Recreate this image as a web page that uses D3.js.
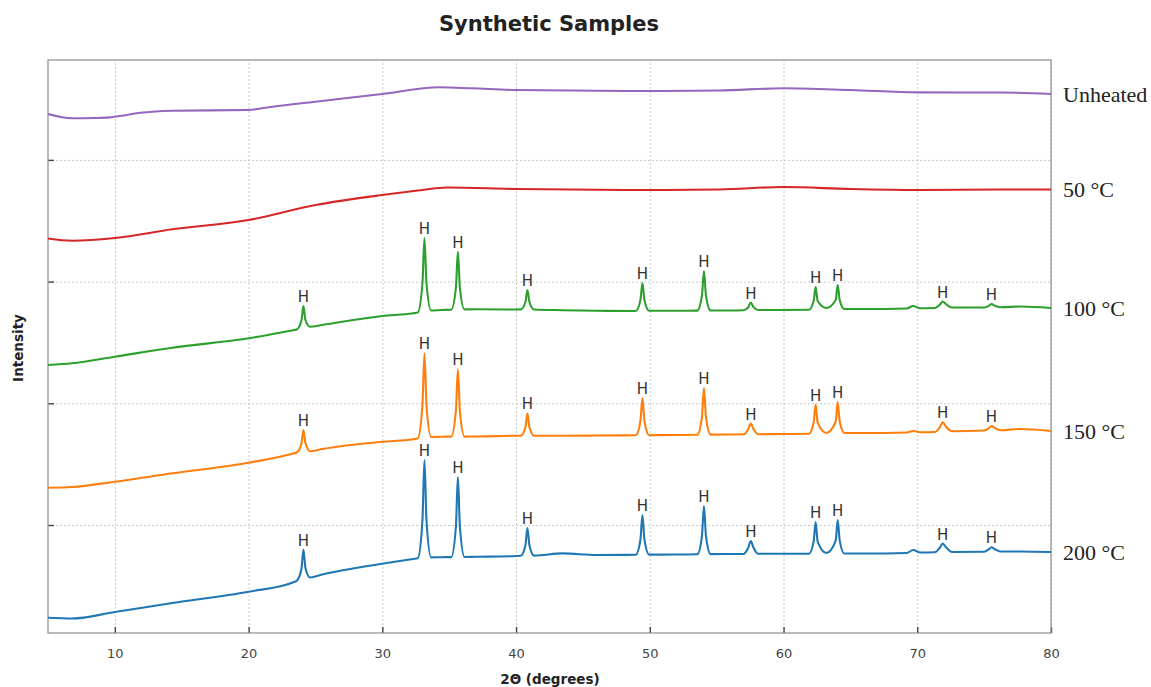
<!DOCTYPE html>
<html lang="en">
<head>
    <meta charset="UTF-8">
    <title>Synthetic Samples</title>
    <style>
        body {
            margin: 0;
            background: #ffffff;
            font-family: "DejaVu Sans", sans-serif;
        }
        .grid line {
            stroke: #c8c8c8;
            stroke-dasharray: 2,2;
        }
        .grid path { display: none; }
        .axis path { display: none; }
        .axis line { stroke: #444; stroke-width: 1.4; }
        .axis text { fill: #444; font-size: 13px; font-family: "DejaVu Sans", sans-serif; }
        .trace { fill: none; stroke-width: 2.1; stroke-linejoin: round; }
        .peak-label { font-size: 15px; fill: #333; text-anchor: middle; font-family: "DejaVu Sans", sans-serif; }
        .series-label { font-size: 22px; fill: #222; font-family: "Liberation Serif", "Times New Roman", serif; }
    </style>
</head>
<body>
<div id="chart"></div>

<script src="https://d3js.org/d3.v7.min.js"></script>
<script>
    // 2θ (degrees) vs intensity (counts, offset per sample)
    const unheated = [[5,5190],[6.8,5147],[8.5,5150],[9.6,5156],[10.5,5172],[11.5,5195],[12.8,5213],[14.3,5223],[20,5230],
        [20.9,5245],[21.8,5263],[25,5313],[30,5390],[34.25,5457],[36.7,5447],[40,5430],[49.75,5420],[55.2,5425],[60,5447],
        [65,5430],[70.1,5406],[76.2,5405],[80,5390]];

    const c50 = [[5,3945],[6.8,3923],[10,3950],[14.3,4037],[20,4130],[25,4280],[30,4380],[33,4430],[34.8,4455],
        [40,4440],[49.75,4430],[55.2,4435],[60,4460],[65,4440],[70.1,4430],[76.2,4435],[80,4435]];

    const c100 = [[5,2680],[6.8,2697],[10,2763],[14.3,2853],[20,2947],[23.4,3030],[23.6,3035],[23.95,3124],[24.1,3270],
        [24.25,3130],[24.6,3062],[25.5,3080],[30,3170],[32.3,3197],[32.65,3205],[33.0,3500],[33.15,3950],[33.3,3500],
        [33.65,3225],[34.4,3230],[35.15,3232],[35.5,3450],[35.65,3813],[35.8,3450],[36.15,3236],[37,3237],[40,3235],
        [40.35,3236],[40.7,3310],[40.85,3430],[41.0,3310],[41.35,3235],[43.5,3228],[46,3222],[48.95,3220],[49.3,3330],
        [49.45,3500],[49.6,3330],[49.95,3222],[52,3222],[53.55,3224],[53.9,3375],[54.05,3620],[54.2,3375],[54.55,3225],
        [56,3225],[57.0,3228],[57.35,3255],[57.55,3305],[57.75,3258],[58.1,3230],[60,3230],[61.9,3232],[62.25,3320],
        [62.4,3460],[62.55,3320],[63.2,3250],[63.9,3330],[64.05,3480],[64.2,3330],[64.55,3240],[66,3240],[69.2,3245],
        [69.7,3270],[70.2,3248],[71.3,3250],[71.7,3285],[71.9,3315],[72.15,3288],[72.6,3255],[75.0,3255],[75.35,3272],
        [75.55,3290],[75.8,3272],[76.2,3258],[77.7,3265],[80,3250]];

    const c150 = [[5,1453],[6.8,1460],[10,1513],[14.3,1597],[20,1703],[23.4,1797],[23.6,1805],[23.95,1893],[24.1,2030],
        [24.25,1900],[24.6,1818],[25.5,1840],[30,1913],[32.3,1937],[32.65,1945],[33.0,2280],[33.15,2797],[33.3,2285],
        [33.65,1960],[34.4,1963],[35.15,1964],[35.5,2220],[35.65,2637],[35.8,2220],[36.15,1964],[37,1965],[40,1973],
        [40.35,1972],[40.7,2057],[40.85,2197],[41.0,2057],[41.35,1972],[43.5,1972],[46,1975],[48.95,1977],[49.3,2120],
        [49.45,2350],[49.6,2120],[49.95,1978],[52,1980],[53.55,1982],[53.9,2160],[54.05,2450],[54.2,2160],[54.55,1984],
        [56,1985],[57.0,1987],[57.35,2035],[57.55,2095],[57.75,2040],[58.1,1988],[60,1990],[61.9,1992],[62.25,2103],
        [62.4,2285],[62.55,2103],[63.2,2000],[63.9,2115],[64.05,2310],[64.2,2115],[64.55,2000],[66,2000],[69.2,2005],
        [69.7,2020],[70.2,2008],[71.3,2010],[71.7,2060],[71.9,2107],[72.15,2062],[72.6,2018],[75.0,2025],[75.35,2048],
        [75.55,2070],[75.8,2050],[76.2,2028],[77.7,2040],[80,2020]];

    const c200 = [[5,153],[6.8,145],[10,210],[14.3,300],[20,413],[23.4,510],[23.6,522],[23.95,640],[24.1,834],
        [24.25,650],[24.6,555],[25.5,585],[30,693],[32.3,740],[32.65,748],[33.0,1130],[33.15,1730],[33.3,1130],
        [33.65,756],[34.4,758],[35.15,759],[35.5,1060],[35.65,1560],[35.8,1060],[36.15,760],[37,762],[40,770],
        [40.35,772],[40.7,878],[40.85,1050],[41.0,878],[41.35,774],[43.5,796],[46,780],[48.95,782],[49.3,933],
        [49.45,1180],[49.6,933],[49.95,784],[52,785],[53.55,787],[53.9,970],[54.05,1270],[54.2,970],[54.55,789],
        [56,790],[57.0,790],[57.35,850],[57.55,920],[57.75,855],[58.1,792],[60,792],[61.9,793],[62.25,914],
        [62.4,1110],[62.55,914],[63.2,800],[63.9,924],[64.05,1130],[64.2,924],[64.55,795],[66,795],[69.2,800],
        [69.7,830],[70.2,805],[71.3,808],[71.7,855],[71.9,895],[72.15,858],[72.6,810],[75.0,812],[75.35,836],
        [75.55,857],[75.8,838],[76.2,815],[77.7,815],[80,810]];

    const seriesNames = ["Unheated", "50 °C", "100 °C", "150 °C", "200 °C"];
    const seriesData = [unheated, c50, c100, c150, c200];
    const seriesColors = ["#9467bd", "#d62728", "#2ca02c", "#ff7f0e", "#1f77b4"];
    const hasPeaks = [false, false, true, true, true];

    // hematite reflections marked "H"
    const hPeaks = [24.1, 33.15, 35.65, 40.85, 49.45, 54.05, 57.55, 62.4, 64.05, 71.9, 75.55];

    const xTicks = [10, 20, 30, 40, 50, 60, 70, 80];
    const yTicks = [1080, 2297, 3514, 4731];

    const margin = { top: 60, right: 100, bottom: 54, left: 48 },
        width = 1051 - margin.left,
        height = 633 - margin.top;

    const svg = d3.select("#chart").append("svg")
        .attr("width", 1151)
        .attr("height", 687);

    const g = svg.append("g")
        .attr("transform", `translate(${margin.left}, ${margin.top})`);

    const x = d3.scaleLinear().domain([5, 80]).range([0, width]);
    const y = d3.scaleLinear().domain([0, 5730]).range([height, 0]);

    // grid
    g.append("g").attr("class", "grid")
        .attr("transform", `translate(0, ${height})`)
        .call(d3.axisBottom(x).tickValues(xTicks).tickSize(-height).tickFormat(""));
    g.append("g").attr("class", "grid")
        .call(d3.axisLeft(y).tickValues(yTicks).tickSize(-width).tickFormat(""));

    // axes, ticks pointing inward
    const xAxis = g.append("g").attr("class", "axis")
        .attr("transform", `translate(0, ${height})`)
        .call(d3.axisBottom(x).tickValues(xTicks).tickSize(-6).tickPadding(16).tickFormat(d3.format("d")));
    xAxis.selectAll("text").attr("dy", "0.71em");

    g.append("g").attr("class", "axis")
        .call(d3.axisLeft(y).tickValues(yTicks).tickSize(-6).tickFormat(""));

    // frame
    g.append("rect")
        .attr("width", width)
        .attr("height", height)
        .attr("fill", "none")
        .attr("stroke", "#8c8c8c")
        .attr("stroke-width", 1.2);

    const line = d3.line()
        .x(d => x(d[0]))
        .y(d => y(d[1]))
        .curve(d3.curveMonotoneX);

    seriesData.forEach((data, i) => {
        g.append("path")
            .datum(data)
            .attr("class", "trace")
            .attr("stroke", seriesColors[i])
            .attr("d", line);

        const last = data[data.length - 1];
        g.append("text")
            .attr("class", "series-label")
            .attr("x", width + 12)
            .attr("y", y(last[1]))
            .attr("dy", "0.35em")
            .text(seriesNames[i]);

        if (hasPeaks[i]) {
            hPeaks.forEach(p => {
                const pt = data.find(d => d[0] === p);
                g.append("text")
                    .attr("class", "peak-label")
                    .attr("x", x(p))
                    .attr("y", y(pt[1]) - 4)
                    .text("H");
            });
        }
    });

    // titles
    svg.append("text")
        .attr("x", 549)
        .attr("y", 31)
        .attr("text-anchor", "middle")
        .style("font-size", "21px")
        .style("font-weight", "bold")
        .style("fill", "#222")
        .text("Synthetic Samples");

    svg.append("text")
        .attr("x", 550)
        .attr("y", 684)
        .attr("text-anchor", "middle")
        .style("font-size", "13.5px")
        .style("font-weight", "bold")
        .style("fill", "#222")
        .text("2Θ (degrees)");

    svg.append("text")
        .attr("transform", "translate(23, 348) rotate(-90)")
        .attr("text-anchor", "middle")
        .style("font-size", "13.5px")
        .style("font-weight", "bold")
        .style("fill", "#222")
        .text("Intensity");
</script>
</body>
</html>
